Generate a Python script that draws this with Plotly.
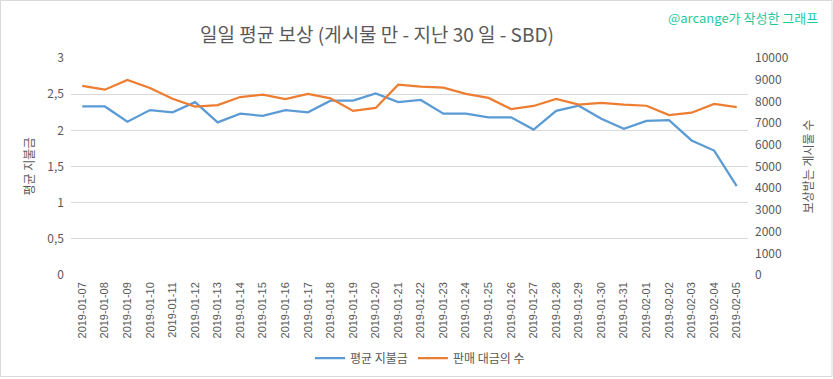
import plotly.graph_objects as go

dates = ["2019-01-07", "2019-01-08", "2019-01-09", "2019-01-10", "2019-01-11", "2019-01-12",
         "2019-01-13", "2019-01-14", "2019-01-15", "2019-01-16", "2019-01-17", "2019-01-18",
         "2019-01-19", "2019-01-20", "2019-01-21", "2019-01-22", "2019-01-23", "2019-01-24",
         "2019-01-25", "2019-01-26", "2019-01-27", "2019-01-28", "2019-01-29", "2019-01-30",
         "2019-01-31", "2019-02-01", "2019-02-02", "2019-02-03", "2019-02-04", "2019-02-05"]

avg_payout = [2.33, 2.33, 2.12, 2.28, 2.25, 2.39, 2.11, 2.23, 2.20, 2.28, 2.25, 2.41,
              2.41, 2.51, 2.39, 2.42, 2.23, 2.23, 2.18, 2.18, 2.01, 2.27, 2.34, 2.16,
              2.02, 2.13, 2.14, 1.86, 1.72, 1.23]

paid_posts = [8720, 8540, 8990, 8620, 8120, 7760, 7830, 8200, 8310, 8110, 8350, 8140,
              7560, 7700, 8770, 8680, 8630, 8350, 8160, 7650, 7790, 8110, 7850, 7930,
              7850, 7800, 7370, 7480, 7880, 7740]

left_ticks = [0, 0.5, 1, 1.5, 2, 2.5, 3]
left_tick_labels = ["0", "0,5", "1", "1,5", "2", "2,5", "3"]
right_ticks = [0, 1000, 2000, 3000, 4000, 5000, 6000, 7000, 8000, 9000, 10000]
right_tick_labels = [str(v) for v in right_ticks]

title_text = "일일 평균 보상 (게시물 만 - 지난 30 일 - SBD)"
watermark = "@arcange가 작성한 그래프"
name_left = "평균 지불금"
name_right = "판매 대금의 수"

FONT = "Noto Sans CJK KR, Noto Sans, sans-serif"
GRAY = "#595959"
BLUE = "#5B9BD5"
ORANGE = "#ED7D31"

W, H = 833, 379
L, R, T, B = 71, 85, 58, 104
PW, PH = W - L - R, H - T - B

fig = go.Figure()
fig.add_trace(go.Scatter(x=dates, y=avg_payout, name=name_left, mode="lines",
                         line=dict(color=BLUE, width=2.25), yaxis="y"))
fig.add_trace(go.Scatter(x=dates, y=paid_posts, name=name_right, mode="lines",
                         line=dict(color=ORANGE, width=2.25), yaxis="y2"))

fig.update_layout(
    width=W, height=H,
    margin=dict(l=L, r=R, t=T, b=B, autoexpand=False),
    paper_bgcolor="white", plot_bgcolor="white",
    font=dict(family=FONT, color=GRAY, size=12),
    title=dict(text=title_text, x=377 / W, xref="container", xanchor="center",
               y=1 - 35 / H, yref="container", yanchor="middle",
               font=dict(size=19, color=GRAY, family=FONT)),
    xaxis=dict(type="category", range=[-0.5, len(dates) - 0.5], tickangle=-90,
               showgrid=False, zeroline=False, showline=False, ticks="",
               tickfont=dict(size=11, color=GRAY, family="Liberation Sans, sans-serif"),
               ticklabelstandoff=4, automargin=False),
    yaxis=dict(range=[0, 3], tickvals=left_ticks, ticktext=left_tick_labels,
               showgrid=True, gridcolor="#D9D9D9", gridwidth=1, zeroline=False,
               showline=False, ticks="", tickfont=dict(size=12, color=GRAY),
               ticklabelstandoff=6, automargin=False,
               title=dict(text=name_left, font=dict(size=12, color=GRAY), standoff=10)),
    yaxis2=dict(range=[0, 10000], tickvals=right_ticks, ticktext=right_tick_labels,
                overlaying="y", side="right", showgrid=False, zeroline=False,
                showline=False, ticks="", tickfont=dict(size=12, color=GRAY),
                ticklabelstandoff=6, automargin=False,
                title=dict(text="보상받는 게시물 수", font=dict(size=12, color=GRAY), standoff=16)),
    legend=dict(orientation="h", x=(420 - L) / PW, xanchor="center",
                y=(275 - 358) / PH, yanchor="middle", font=dict(size=12, color=GRAY),
                bgcolor="rgba(0,0,0,0)", itemwidth=30),
    showlegend=True,
)

fig.add_annotation(text=watermark, xref="paper", yref="paper",
                   x=(820 - L) / PW, xanchor="right", y=(T + PH - 17) / PH, yanchor="middle",
                   showarrow=False, font=dict(size=13, color="#1FC9A0", family=FONT))

# outer chart border
fig.add_shape(type="rect", xref="paper", yref="paper",
              x0=(0.5 - L) / PW, x1=(832 - L) / PW,
              y0=(T + PH - 376.5) / PH, y1=(T + PH - 0.5) / PH,
              line=dict(color="#D9D9D9", width=1), fillcolor="rgba(0,0,0,0)", layer="below")

fig.write_html("out.html", config={"displayModeBar": False},
               post_script="document.body.style.margin='0';document.body.style.padding='0';")
